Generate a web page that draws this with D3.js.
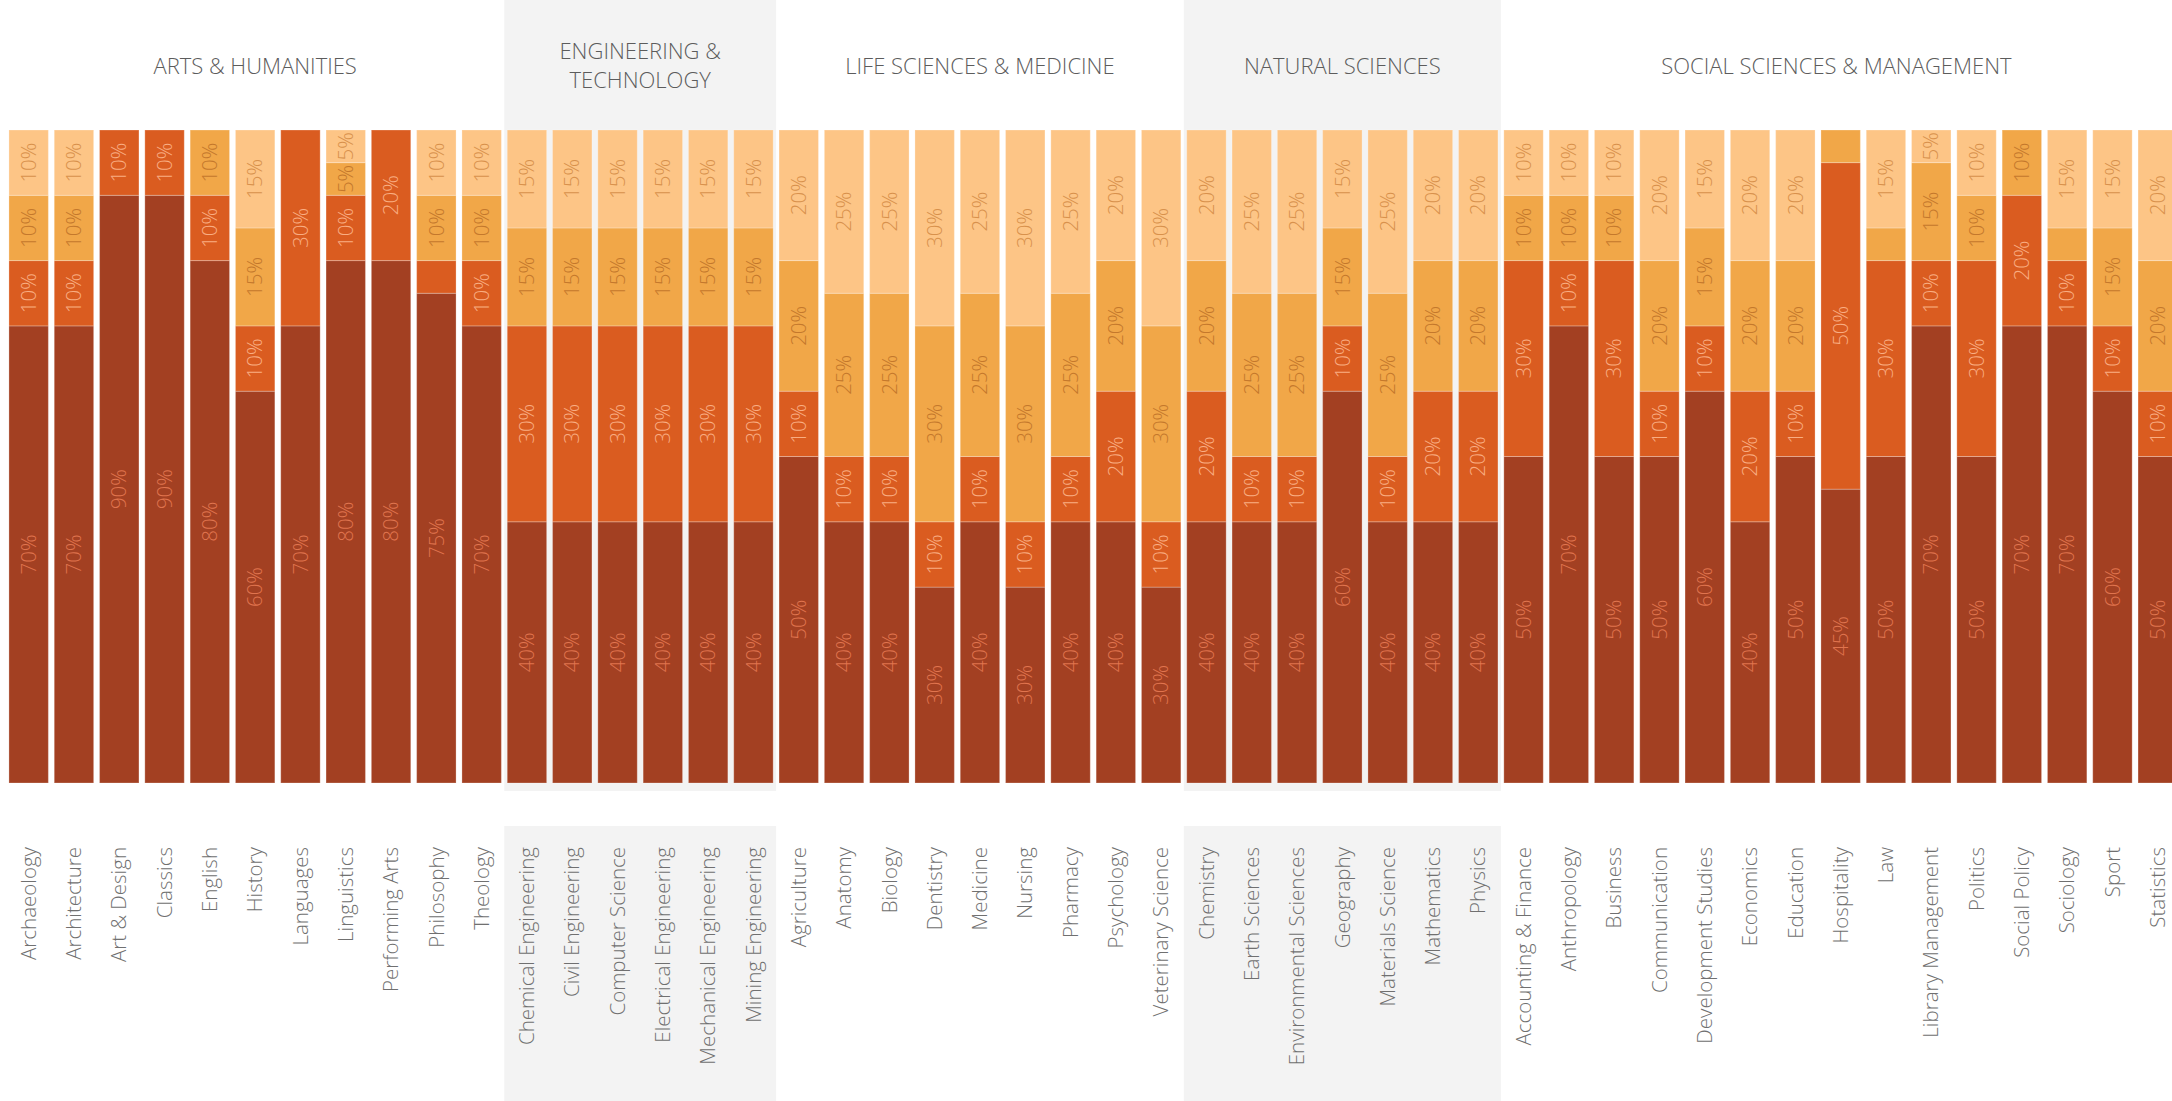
<!DOCTYPE html>
<html>
<head>
<meta charset="utf-8">
<script src="https://d3js.org/d3.v7.min.js"></script>
<style>
  html, body { margin: 0; padding: 0; background: #fff; overflow: hidden; }
  svg { display: block; font-family: "Open Sans", "Noto Sans", sans-serif; }
</style>
</head>
<body>
<script>

// Faculty groups, in the order they sit across the page
const groups = [
  'ARTS & HUMANITIES',
  'ENGINEERING & TECHNOLOGY',
  'LIFE SCIENCES & MEDICINE',
  'NATURAL SCIENCES',
  'SOCIAL SCIENCES & MANAGEMENT'
];

const artsSubjects = ['Archaeology', 'Architecture', 'Art & Design', 'Classics', 'English', 'History',
  'Languages', 'Linguistics', 'Performing Arts', 'Philosophy', 'Theology'];
const engineeringSubjects = ['Chemical Engineering', 'Civil Engineering', 'Computer Science',
  'Electrical Engineering', 'Mechanical Engineering', 'Mining Engineering'];
const lifeSubjects = ['Agriculture', 'Anatomy', 'Biology', 'Dentistry', 'Medicine', 'Nursing',
  'Pharmacy', 'Psychology', 'Veterinary Science'];
const naturalSubjects = ['Chemistry', 'Earth Sciences', 'Environmental Sciences', 'Geography',
  'Materials Science', 'Mathematics', 'Physics'];
const socialSubjects = ['Accounting & Finance', 'Anthropology', 'Business', 'Communication',
  'Development Studies', 'Economics', 'Education', 'Hospitality', 'Law', 'Library Management',
  'Politics', 'Social Policy', 'Sociology', 'Sport', 'Statistics'];

const subjectsByGroup = [artsSubjects, engineeringSubjects, lifeSubjects, naturalSubjects, socialSubjects];

// Four stacked shares per subject (bottom -> top), in %, same order as the subjects above
const band1 = [70, 70, 90, 90, 80, 60, 70, 80, 80, 75, 70,
  40, 40, 40, 40, 40, 40,
  50, 40, 40, 30, 40, 30, 40, 40, 30,
  40, 40, 40, 60, 40, 40, 40,
  50, 70, 50, 50, 60, 40, 50, 45, 50, 70, 50, 70, 70, 60, 50];
const band2 = [10, 10, 10, 10, 10, 10, 30, 10, 20, 5, 10,
  30, 30, 30, 30, 30, 30,
  10, 10, 10, 10, 10, 10, 10, 20, 10,
  20, 10, 10, 10, 10, 20, 20,
  30, 10, 30, 10, 10, 20, 10, 50, 30, 10, 30, 20, 10, 10, 10];
const band3 = [10, 10, 0, 0, 10, 15, 0, 5, 0, 10, 10,
  15, 15, 15, 15, 15, 15,
  20, 25, 25, 30, 25, 30, 25, 20, 30,
  20, 25, 25, 15, 25, 20, 20,
  10, 10, 10, 20, 15, 20, 20, 5, 5, 15, 10, 10, 5, 15, 20];
const band4 = [10, 10, 0, 0, 0, 15, 0, 5, 0, 10, 10,
  15, 15, 15, 15, 15, 15,
  20, 25, 25, 30, 25, 30, 25, 20, 30,
  20, 25, 25, 15, 25, 20, 20,
  10, 10, 10, 20, 15, 20, 20, 0, 15, 5, 10, 0, 15, 15, 20];

const bandKeys = ['band1', 'band2', 'band3', 'band4'];

// segments that carry no printed value in the original
const hiddenLabels = ['Philosophy|band2', 'Hospitality|band3', 'Law|band3', 'Sociology|band3'];


const subjects = subjectsByGroup.flat();
const table = subjects.map((s, i) => ({
  subject: s,
  band1: band1[i], band2: band2[i], band3: band3[i], band4: band4[i]
}));

class chart {

  constructor(opts) {
    this.element = opts.element;
    this.data = opts.data;
    this.draw();
  }

  draw() {

    this.width = 2172;
    this.height = 1101;

    // bar area and label area
    this.barTop = 130;
    this.barBottom = 783;
    this.labelTop = 826;

    const svg = d3.select(this.element).append('svg')
      .attr('width', this.width)
      .attr('height', this.height);

    this.svg = svg;
    this.bg = svg.append('g');
    this.plot = svg.append('g');

    this.createScales();
    this.addBackgrounds();
    this.addChart();
    this.addAxes();
  }

  createScales() {

    this.xScale = d3.scaleBand()
      .domain(subjects)
      .range([6, 6 + subjects.length * 45.3])
      .paddingInner(0.13)
      .paddingOuter(0.065);

    this.yScale = d3.scaleLinear()
      .domain([0, 100])
      .range([this.barBottom, this.barTop]);

    this.fill = d3.scaleOrdinal()
      .domain(bandKeys)
      .range(['#a34022', '#da5c20', '#f1a748', '#fdc586']);

    this.textFill = d3.scaleOrdinal()
      .domain(bandKeys)
      .range(['#e0744e', '#f9ad82', '#c4782c', '#d8914c']);
  }

  groupExtent(i) {
    const x = this.xScale;
    const half = x.step() * x.paddingInner() / 2;
    const list = subjectsByGroup[i];
    const x0 = Math.max(0, x(list[0]) - half);
    const x1 = Math.min(this.width, x(list[list.length - 1]) + x.bandwidth() + half);
    return [x0, x1];
  }

  addBackgrounds() {

    // every other faculty gets a grey column
    groups.forEach((g, i) => {
      const [x0, x1] = this.groupExtent(i);

      if (i % 2 === 1) {
        this.bg.append('rect')
          .attr('x', x0).attr('y', 0)
          .attr('width', x1 - x0).attr('height', this.barBottom + 8)
          .attr('fill', '#f3f3f3');
        this.bg.append('rect')
          .attr('x', x0).attr('y', this.labelTop)
          .attr('width', x1 - x0).attr('height', this.height - this.labelTop)
          .attr('fill', '#f3f3f3');
      }

      // heading, wrapped when it does not fit the column
      const heading = this.bg.append('text')
        .attr('text-anchor', 'middle')
        .attr('fill', '#5c5c5c')
        .style('font-size', '22px')
        .style('font-weight', 300);

      const cx = (x0 + x1) / 2;
      const words = g.split(' ');
      let lines = [g];
      heading.text(g);
      if (heading.node().getComputedTextLength() > (x1 - x0) - 40) {
        // greedy wrap
        lines = [];
        let line = [];
        words.forEach(w => {
          line.push(w);
          heading.text(line.join(' '));
          if (heading.node().getComputedTextLength() > (x1 - x0) - 40 && line.length > 1) {
            line.pop();
            lines.push(line.join(' '));
            line = [w];
          }
        });
        lines.push(line.join(' '));
      }
      heading.text(null);
      const lh = 29;
      const y0 = 66 - (lines.length - 1) * lh / 2;
      lines.forEach((l, k) => {
        heading.append('tspan')
          .attr('x', cx)
          .attr('y', y0 + k * lh)
          .attr('dy', '0.35em')
          .text(l);
      });
    });
  }

  addAxes() {

    const xAxis = d3.axisBottom()
      .scale(this.xScale)
      .tickSize(0)
      .tickSizeOuter(0);

    const ax = this.svg.append('g')
      .attr('class', 'x axis')
      .attr('transform', `translate(0, 847)`)
      .call(xAxis);

    ax.select('.domain').remove();

    ax.selectAll('text')
      .attr('x', 0)
      .attr('y', 0)
      .attr('dy', '0.35em')
      .attr('transform', 'rotate(-90)')
      .style('text-anchor', 'end')
      .style('font-size', '20.5px')
      .style('font-weight', 300)
      .style('font-family', '"Open Sans", "Noto Sans", sans-serif')
      .attr('fill', '#707070');
  }

  addChart() {

    const x = this.xScale;
    const y = this.yScale;

    const series = d3.stack().keys(bandKeys)(this.data);

    const layer = this.plot.selectAll('.layer')
      .data(series)
      .enter().append('g')
        .attr('class', 'layer')
        .style('fill', d => this.fill(d.key));

    layer.selectAll('.bar')
      .data(d => d)
      .enter().append('rect')
        .attr('class', 'bar')
        .attr('x', d => x(d.data.subject))
        .attr('y', d => y(d[1]))
        .attr('width', x.bandwidth())
        .attr('height', d => y(d[0]) - y(d[1]))
        .attr('stroke', 'rgba(255,255,255,0.25)')
        .attr('stroke-width', 1);

    // value labels, turned to read upwards
    const labels = [];
    series.forEach(s => {
      s.forEach(d => {
        const v = d[1] - d[0];
        if (v <= 0) return;
        if (hiddenLabels.includes(d.data.subject + '|' + s.key)) return;
        labels.push({ key: s.key, subject: d.data.subject, v: v, mid: (d[0] + d[1]) / 2 });
      });
    });

    this.plot.selectAll('.val')
      .data(labels)
      .enter().append('text')
        .attr('class', 'val')
        .attr('transform', d => `translate(${x(d.subject) + x.bandwidth() / 2},${y(d.mid)}) rotate(-90)`)
        .attr('text-anchor', 'middle')
        .attr('dy', '0.35em')
        .style('font-size', '20.5px')
        .style('font-weight', 300)
        .attr('fill', d => this.textFill(d.key))
        .text(d => d.v + '%');
  }

}

function initializeChart(data) {
  const c = new chart({
    element: document.querySelector('body'),
    data: data
  });
}

initializeChart(table);
</script>
</body>
</html>
